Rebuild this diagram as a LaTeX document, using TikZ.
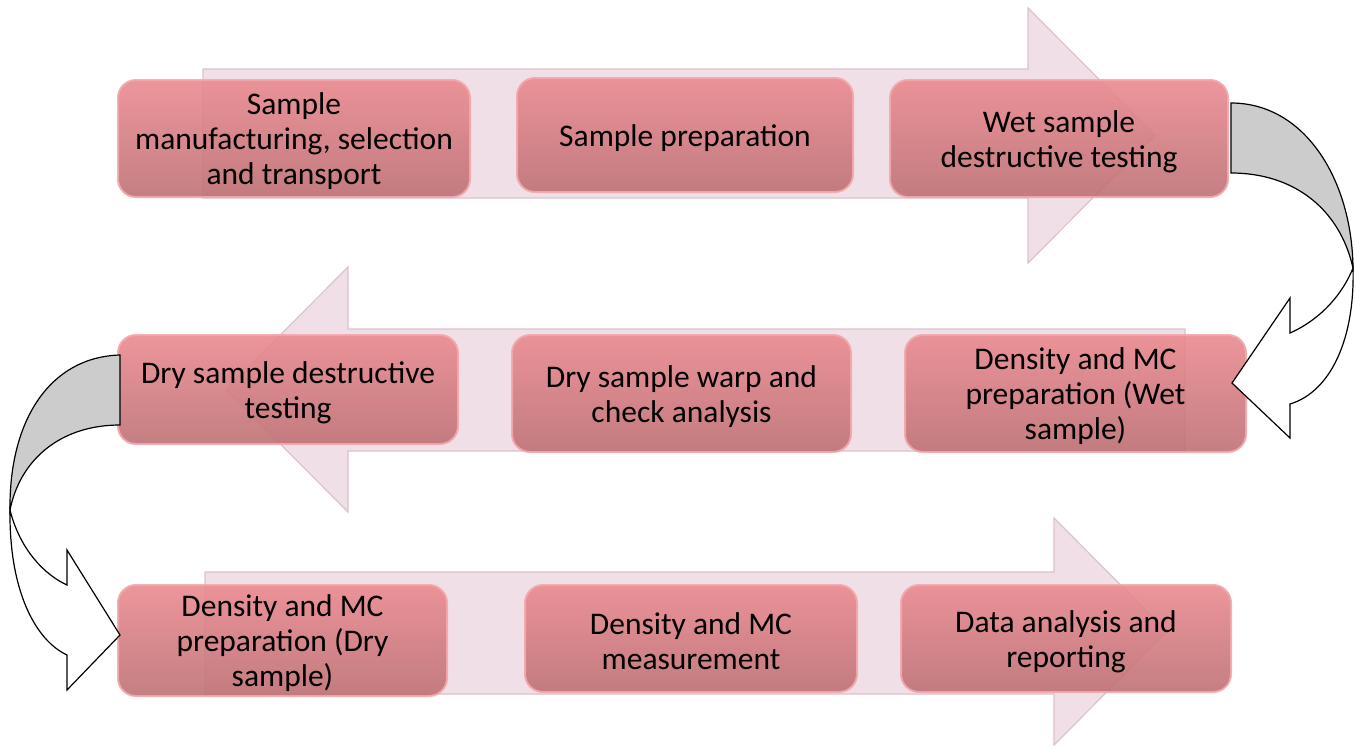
\documentclass[tikz,border=0pt]{standalone}
\usepackage{fontspec}
\setmainfont{Carlito}
\definecolor{arrfill}{RGB}{241,223,231}
\definecolor{arrdraw}{RGB}{220,194,204}
\definecolor{boxtop}{RGB}{234,138,144}
\definecolor{boxmid}{RGB}{208,122,126}
\definecolor{boxbot}{RGB}{190,113,117}
\definecolor{boxedge}{RGB}{242,168,172}
\definecolor{bandgray}{RGB}{204,204,204}
\begin{document}
\begin{tikzpicture}[x=1pt,y=-1pt,
  bigarrow/.style={fill=arrfill,draw=arrdraw,line width=1.2pt},
  box/.style={draw=boxedge,line width=2pt,rounded corners=18pt,
    top color=boxtop,middle color=boxmid,bottom color=boxbot,
    fill opacity=0.9,draw opacity=0.9,inner sep=0pt},
  lbl/.style={align=center,inner sep=0pt,yshift=-3pt,
    font=\fontsize{31.5}{35}\selectfont},
  band/.style={draw=black,line width=1.2pt,line join=miter}]
\useasboundingbox (0,0) rectangle (1356,747);
% background arrows
\path[bigarrow] (203,69) -- (1028,69) -- (1028,8) -- (1155,135.5) -- (1028,263) -- (1028,198) -- (203,198) -- cycle;
\path[bigarrow] (1185,329) -- (348,329) -- (348,267) -- (226,389.5) -- (348,512) -- (348,451) -- (1185,451) -- cycle;
\path[bigarrow] (205,572) -- (1054,572) -- (1054,518) -- (1167,631.5) -- (1054,745) -- (1054,694) -- (205,694) -- cycle;
% boxes
\node[box,minimum width=352pt,minimum height=117pt] (b1) at (294,138.5) {};
\node[box,minimum width=336pt,minimum height=114pt] (b2) at (685,135) {};
\node[box,minimum width=338pt,minimum height=117pt] (b3) at (1059,138.5) {};
\node[box,minimum width=340pt,minimum height=109pt] (b4) at (288,389.5) {};
\node[box,minimum width=339pt,minimum height=117pt] (b5) at (681.5,393.5) {};
\node[box,minimum width=341pt,minimum height=117pt] (b6) at (1075.5,393.5) {};
\node[box,minimum width=329pt,minimum height=111pt] (b7) at (282.5,640.5) {};
\node[box,minimum width=332pt,minimum height=107pt] (b8) at (691,638.5) {};
\node[box,minimum width=330pt,minimum height=107pt] (b9) at (1066,638.5) {};
% labels
\node[lbl] (t1) at (b1) {Sample\\manufacturing, selection\\and transport};
\node[lbl] (t2) at (b2) {Sample preparation};
\node[lbl] (t3) at (b3) {Wet sample\\destructive testing};
\node[lbl] (t4) at (b4) {Dry sample destructive\\testing};
\node[lbl] (t5) at (b5) {Dry sample warp and\\check analysis};
\node[lbl] (t6) at (b6) {Density and MC\\preparation (Wet\\sample)};
\node[lbl] (t7) at (b7) {Density and MC\\preparation (Dry\\sample)};
\node[lbl] (t8) at (b8) {Density and MC\\measurement};
\node[lbl] (t9) at (b9) {Data analysis and\\reporting};
% right curved arrow
\path[band,fill=bandgray] (1231,103) .. controls (1305,103) and (1352,180) .. (1353,268)
  .. controls (1340,210) and (1295,173) .. (1231,173) -- cycle;
\path[band,fill=white] (1353,268) .. controls (1340,300) and (1315,322) .. (1290,333)
  -- (1290,298) -- (1232,383) -- (1290,438) -- (1290,404)
  .. controls (1330,392) and (1355,340) .. (1353,268) -- cycle;
% left curved arrow
\path[band,fill=bandgray] (120,355) .. controls (50,357) and (9,420) .. (10,510)
  .. controls (20,460) and (60,425) .. (120,425) -- cycle;
\path[band,fill=white] (10,510) .. controls (20,550) and (45,575) .. (67,585)
  -- (67,550) -- (120,635) -- (67,690) -- (67,655)
  .. controls (35,640) and (9,590) .. (10,510) -- cycle;
\end{tikzpicture}
\end{document}
